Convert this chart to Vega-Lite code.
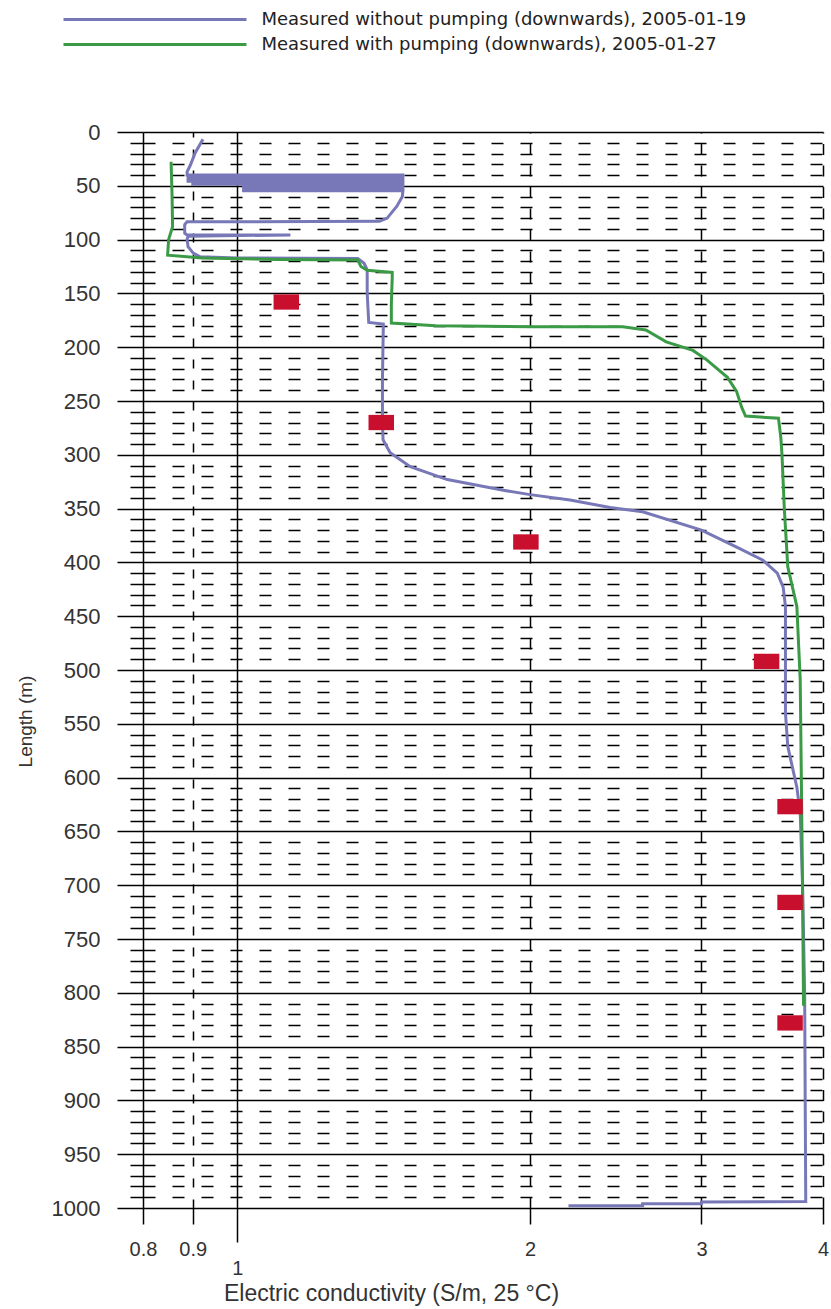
{
  "$schema": "https://vega.github.io/schema/vega-lite/v6.json",
  "width": 680,
  "height": 1076,
  "autosize": {"type": "none"},
  "padding": {"left": 143, "top": 132, "right": 8, "bottom": 101},
  "background": "white",
  "config": {"view": {"stroke": null}, "font": "Liberation Sans"},
  "datasets": {
    "profiles": [
      {"s": "a", "i": 1, "ec": 0.922, "len": 6.8},
      {"s": "a", "i": 2, "ec": 0.905, "len": 19.5},
      {"s": "a", "i": 3, "ec": 0.895, "len": 30.7},
      {"s": "a", "i": 4, "ec": 0.888, "len": 37},
      {"s": "a", "i": 5, "ec": 0.888, "len": 40},
      {"s": "a", "i": 6, "ec": 1.48, "len": 40},
      {"s": "a", "i": 7, "ec": 1.48, "len": 41},
      {"s": "a", "i": 8, "ec": 0.89, "len": 41},
      {"s": "a", "i": 9, "ec": 0.89, "len": 42.2},
      {"s": "a", "i": 10, "ec": 1.48, "len": 42.2},
      {"s": "a", "i": 11, "ec": 1.48, "len": 44.5},
      {"s": "a", "i": 12, "ec": 1.31, "len": 44.5},
      {"s": "a", "i": 13, "ec": 1.31, "len": 43},
      {"s": "a", "i": 14, "ec": 0.89, "len": 43},
      {"s": "a", "i": 15, "ec": 0.89, "len": 45.8},
      {"s": "a", "i": 16, "ec": 1.48, "len": 45.8},
      {"s": "a", "i": 17, "ec": 1.48, "len": 47},
      {"s": "a", "i": 18, "ec": 0.9, "len": 47},
      {"s": "a", "i": 19, "ec": 0.9, "len": 48.5},
      {"s": "a", "i": 20, "ec": 1.48, "len": 48.5},
      {"s": "a", "i": 21, "ec": 1.48, "len": 50},
      {"s": "a", "i": 22, "ec": 1.015, "len": 50},
      {"s": "a", "i": 23, "ec": 1.015, "len": 51.5},
      {"s": "a", "i": 24, "ec": 1.48, "len": 51.5},
      {"s": "a", "i": 25, "ec": 1.48, "len": 53},
      {"s": "a", "i": 26, "ec": 1.015, "len": 53},
      {"s": "a", "i": 27, "ec": 1.015, "len": 54.6},
      {"s": "a", "i": 28, "ec": 1.48, "len": 54.6},
      {"s": "a", "i": 29, "ec": 1.478, "len": 60},
      {"s": "a", "i": 30, "ec": 1.459, "len": 69},
      {"s": "a", "i": 31, "ec": 1.426, "len": 80},
      {"s": "a", "i": 32, "ec": 1.4, "len": 83},
      {"s": "a", "i": 33, "ec": 0.888, "len": 83.5},
      {"s": "a", "i": 34, "ec": 0.883, "len": 86},
      {"s": "a", "i": 35, "ec": 0.883, "len": 94},
      {"s": "a", "i": 36, "ec": 0.888, "len": 95.7},
      {"s": "a", "i": 37, "ec": 1.134, "len": 95.7},
      {"s": "a", "i": 38, "ec": 0.89, "len": 96.8},
      {"s": "a", "i": 39, "ec": 0.888, "len": 100},
      {"s": "a", "i": 40, "ec": 0.89, "len": 106.6},
      {"s": "a", "i": 41, "ec": 0.901, "len": 112.6},
      {"s": "a", "i": 42, "ec": 0.916, "len": 116},
      {"s": "a", "i": 43, "ec": 1.0, "len": 117},
      {"s": "a", "i": 44, "ec": 1.33, "len": 117.5},
      {"s": "a", "i": 45, "ec": 1.35, "len": 122},
      {"s": "a", "i": 46, "ec": 1.36, "len": 128},
      {"s": "a", "i": 47, "ec": 1.36, "len": 150},
      {"s": "a", "i": 48, "ec": 1.365, "len": 177},
      {"s": "a", "i": 49, "ec": 1.413, "len": 178.5},
      {"s": "a", "i": 50, "ec": 1.41, "len": 230},
      {"s": "a", "i": 51, "ec": 1.41, "len": 270},
      {"s": "a", "i": 52, "ec": 1.412, "len": 286},
      {"s": "a", "i": 53, "ec": 1.436, "len": 298},
      {"s": "a", "i": 54, "ec": 1.506, "len": 311},
      {"s": "a", "i": 55, "ec": 1.644, "len": 323},
      {"s": "a", "i": 56, "ec": 1.877, "len": 333},
      {"s": "a", "i": 57, "ec": 2.0, "len": 337},
      {"s": "a", "i": 58, "ec": 2.198, "len": 342},
      {"s": "a", "i": 59, "ec": 2.417, "len": 349},
      {"s": "a", "i": 60, "ec": 2.61, "len": 353},
      {"s": "a", "i": 61, "ec": 3.0, "len": 370},
      {"s": "a", "i": 62, "ec": 3.265, "len": 386},
      {"s": "a", "i": 63, "ec": 3.47, "len": 398},
      {"s": "a", "i": 64, "ec": 3.59, "len": 410},
      {"s": "a", "i": 65, "ec": 3.64, "len": 423},
      {"s": "a", "i": 66, "ec": 3.66, "len": 441},
      {"s": "a", "i": 67, "ec": 3.66, "len": 540},
      {"s": "a", "i": 68, "ec": 3.68, "len": 571},
      {"s": "a", "i": 69, "ec": 3.76, "len": 609},
      {"s": "a", "i": 70, "ec": 3.79, "len": 633},
      {"s": "a", "i": 71, "ec": 3.81, "len": 695},
      {"s": "a", "i": 72, "ec": 3.83, "len": 800},
      {"s": "a", "i": 73, "ec": 3.835, "len": 900},
      {"s": "a", "i": 74, "ec": 3.84, "len": 994},
      {"s": "a", "i": 75, "ec": 3.0, "len": 994.5},
      {"s": "a", "i": 76, "ec": 3.0, "len": 996},
      {"s": "a", "i": 77, "ec": 2.61, "len": 996},
      {"s": "a", "i": 78, "ec": 2.61, "len": 998},
      {"s": "a", "i": 79, "ec": 2.19, "len": 998},
      {"s": "b", "i": 101, "ec": 0.855, "len": 27.6},
      {"s": "b", "i": 102, "ec": 0.857, "len": 60},
      {"s": "b", "i": 103, "ec": 0.858, "len": 88},
      {"s": "b", "i": 104, "ec": 0.85, "len": 100},
      {"s": "b", "i": 105, "ec": 0.848, "len": 114.5},
      {"s": "b", "i": 106, "ec": 0.92, "len": 117},
      {"s": "b", "i": 107, "ec": 1.1, "len": 118.5},
      {"s": "b", "i": 108, "ec": 1.33, "len": 119},
      {"s": "b", "i": 109, "ec": 1.34, "len": 125},
      {"s": "b", "i": 110, "ec": 1.36, "len": 128.5},
      {"s": "b", "i": 111, "ec": 1.443, "len": 130.5},
      {"s": "b", "i": 112, "ec": 1.443, "len": 135},
      {"s": "b", "i": 113, "ec": 1.44, "len": 160},
      {"s": "b", "i": 114, "ec": 1.44, "len": 177.6},
      {"s": "b", "i": 115, "ec": 1.6, "len": 180},
      {"s": "b", "i": 116, "ec": 2.0, "len": 181},
      {"s": "b", "i": 117, "ec": 2.49, "len": 181},
      {"s": "b", "i": 118, "ec": 2.63, "len": 184},
      {"s": "b", "i": 119, "ec": 2.76, "len": 195},
      {"s": "b", "i": 120, "ec": 2.94, "len": 203},
      {"s": "b", "i": 121, "ec": 3.04, "len": 212},
      {"s": "b", "i": 122, "ec": 3.19, "len": 228},
      {"s": "b", "i": 123, "ec": 3.26, "len": 241},
      {"s": "b", "i": 124, "ec": 3.3, "len": 256},
      {"s": "b", "i": 125, "ec": 3.33, "len": 264},
      {"s": "b", "i": 126, "ec": 3.6, "len": 266},
      {"s": "b", "i": 127, "ec": 3.62, "len": 284},
      {"s": "b", "i": 128, "ec": 3.63, "len": 300},
      {"s": "b", "i": 129, "ec": 3.65, "len": 350},
      {"s": "b", "i": 130, "ec": 3.68, "len": 404},
      {"s": "b", "i": 131, "ec": 3.76, "len": 441},
      {"s": "b", "i": 132, "ec": 3.79, "len": 509},
      {"s": "b", "i": 133, "ec": 3.8, "len": 600},
      {"s": "b", "i": 134, "ec": 3.81, "len": 695},
      {"s": "b", "i": 135, "ec": 3.82, "len": 812}
    ],
    "markers": [
      {"ec": 1.123, "len": 158},
      {"ec": 1.406, "len": 270},
      {"ec": 1.98, "len": 381},
      {"ec": 3.5, "len": 492},
      {"ec": 3.7, "len": 627},
      {"ec": 3.7, "len": 716},
      {"ec": 3.7, "len": 828}
    ]
  },
  "layer": [
    {
      "data": {"name": "profiles"},
      "mark": {"type": "line", "strokeWidth": 3},
      "encoding": {
        "x": {
          "field": "ec", "type": "quantitative",
          "scale": {"type": "log", "domain": [0.8, 4], "nice": false},
          "axis": {
            "values": [0.8, 0.9, 1, 2, 3, 4],
            "tickCount": 50,
            "format": "~g",
            "title": "Electric conductivity (S/m, 25 °C)",
            "titleX": 248, "titleY": 85, "titleAlign": "center", "titleBaseline": "middle",
            "titleFont": "Liberation Sans", "titleFontSize": 23, "titleFontWeight": "normal", "titleColor": "#333",
            "labelFont": "Liberation Sans", "labelFontSize": 20, "labelColor": "#333",
            "labelPadding": {"condition": {"test": "datum.value === 1", "value": 16}, "value": 15},
            "tickSize": {"condition": {"test": "datum.value === 1", "value": 34}, "value": 16},
            "tickColor": "#000", "tickWidth": 1.5,
            "grid": true, "gridColor": "#000", "gridWidth": 1.5,
            "gridDash": {"condition": [{"test": "datum.value === 0.8 || datum.value === 1", "value": []}, {"test": "datum.value === 0.9", "value": [9, 12]}], "value": [11, 10.5]},
            "domain": false, "labelOverlap": false, "labelFlush": false, "labelBound": false
          }
        },
        "y": {
          "field": "len", "type": "quantitative",
          "scale": {"domain": [0, 1000], "reverse": true, "nice": false},
          "axis": {
            "values": [0,10,20,30,40,50,60,70,80,90,100,110,120,130,140,150,160,170,180,190,200,210,220,230,240,250,260,270,280,290,300,310,320,330,340,350,360,370,380,390,400,410,420,430,440,450,460,470,480,490,500,510,520,530,540,550,560,570,580,590,600,610,620,630,640,650,660,670,680,690,700,710,720,730,740,750,760,770,780,790,800,810,820,830,840,850,860,870,880,890,900,910,920,930,940,950,960,970,980,990,1000],
            "tickCount": 500,
            "format": "d",
            "labelExpr": "datum.value % 50 === 0 ? datum.label : ''",
            "title": "Length (m)",
            "titleX": -118, "titleY": 589, "titleAlign": "center", "titleBaseline": "middle", "titleAngle": -90,
            "titleFont": "Liberation Sans", "titleFontSize": 19, "titleFontWeight": "normal", "titleColor": "#333",
            "labelFont": "Liberation Sans", "labelFontSize": 22, "labelColor": "#333",
            "labelPadding": 17,
            "tickSize": {"condition": {"test": "datum.value % 50 === 0", "value": 26}, "value": 13},
            "tickColor": "#000", "tickWidth": 1.5,
            "grid": true, "gridColor": "#000",
            "gridWidth": {"condition": {"test": "datum.value % 50 === 0", "value": 1.6}, "value": 1.3},
            "gridDash": {"condition": {"test": "datum.value % 50 === 0", "value": []}, "value": [12, 17]},
            "domain": false, "labelOverlap": false, "labelBound": false
          }
        },
        "color": {
          "field": "s", "type": "nominal", "sort": null,
          "scale": {"domain": ["a", "b"], "range": ["#7878b8", "#3a9a45"]},
          "legend": {
            "title": null, "orient": "none", "legendX": 0.5, "legendY": -124, "direction": "vertical",
            "labelExpr": "datum.value === 'a' ? 'Measured without pumping (downwards), 2005-01-19' : 'Measured with pumping (downwards), 2005-01-27'",
            "symbolType": "M-9.15,0L9.15,0", "symbolSize": 400, "symbolStrokeWidth": 3,
            "labelOffset": 95, "labelFont": "DejaVu Sans", "labelFontSize": 18, "labelColor": "#222", "labelLimit": 800,
            "rowPadding": 4, "padding": 0
          }
        },
        "order": {"field": "i", "type": "quantitative"}
      }
    },
    {
      "data": {"name": "markers"},
      "mark": {"type": "point", "shape": "M-1,-0.6L1,-0.6L1,0.6L-1,0.6Z", "size": 650, "filled": true, "color": "#c8102e", "opacity": 1},
      "encoding": {
        "x": {"field": "ec", "type": "quantitative"},
        "y": {"field": "len", "type": "quantitative"}
      }
    }
  ]
}
